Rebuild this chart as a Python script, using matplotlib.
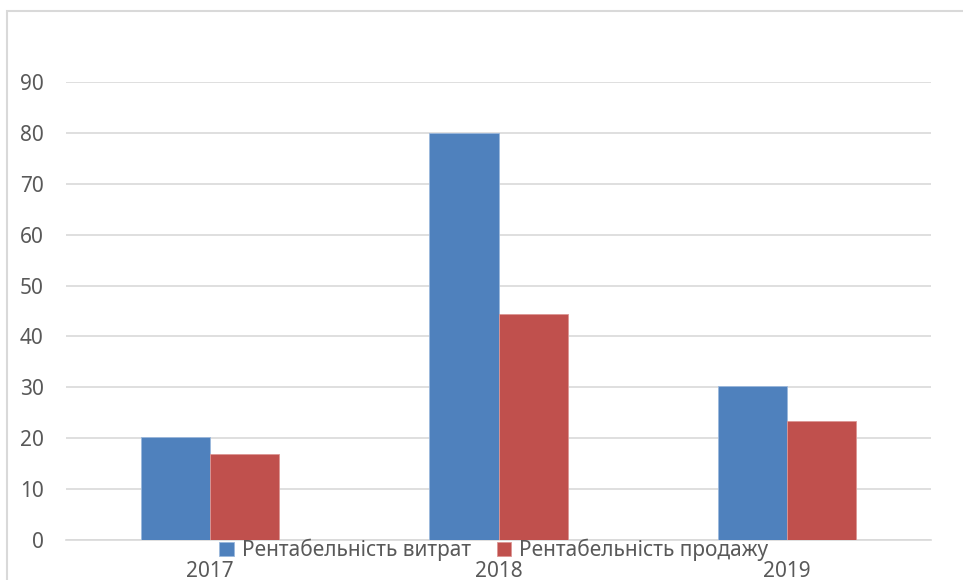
import matplotlib
matplotlib.use('Agg')
import matplotlib.pyplot as plt
from matplotlib.patches import Rectangle
import numpy as np

plt.rcParams['font.family'] = ['Noto Sans', 'DejaVu Sans']

years = ['2017', '2018', '2019']
rent_vytrat = [20.3, 80.0, 30.3]
rent_prodazhu = [16.9, 44.4, 23.3]
series_names = ['Рентабельність витрат', 'Рентабельність продажу']
yticks = [0, 10, 20, 30, 40, 50, 60, 70, 80, 90]

W, H = 963, 580
fig = plt.figure(figsize=(W / 100, H / 100), dpi=100)
ax = fig.add_axes([66 / W, 1 - 540 / H, (931 - 66) / W, (540 - 82) / H])

x = np.arange(len(years))
bw = 0.24
ax.bar(x - bw / 2, rent_vytrat, bw, color='#4F81BD', edgecolor='#9bb8dc',
       linewidth=0.6, label=series_names[0], zorder=3)
ax.bar(x + bw / 2, rent_prodazhu, bw, color='#C0504D', edgecolor='#dc9694',
       linewidth=0.6, label=series_names[1], zorder=3)

ax.set_xlim(-0.5, 2.5)
ax.set_ylim(0, 90)
ax.set_yticks(yticks)
ax.set_xticks(x)
ax.set_xticklabels(years)
ax.yaxis.grid(True, color='#d9d9d9', linewidth=1.2, zorder=0)
for s in ['top', 'right', 'left']:
    ax.spines[s].set_visible(False)
ax.spines['bottom'].set_color('#d9d9d9')
ax.spines['bottom'].set_linewidth(1.2)
ax.tick_params(axis='y', length=0, pad=16, labelsize=15, labelcolor='#595959')
ax.tick_params(axis='x', length=0, pad=15, labelsize=15, labelcolor='#595959')

# outer chart border
fig.patches.append(Rectangle((7 / W, -0.1), 2, 1.1 - 11 / H, transform=fig.transFigure,
                             fill=False, edgecolor='#d9d9d9', linewidth=1.5))

fig.legend(loc='center', bbox_to_anchor=(494 / W, 1 - 550 / H), ncol=2,
           frameon=False, fontsize=15, labelcolor='#595959',
           handlelength=0.7, handleheight=0.7, handletextpad=0.4,
           columnspacing=1.2, borderpad=0)

fig.savefig('out.png', dpi=100)
